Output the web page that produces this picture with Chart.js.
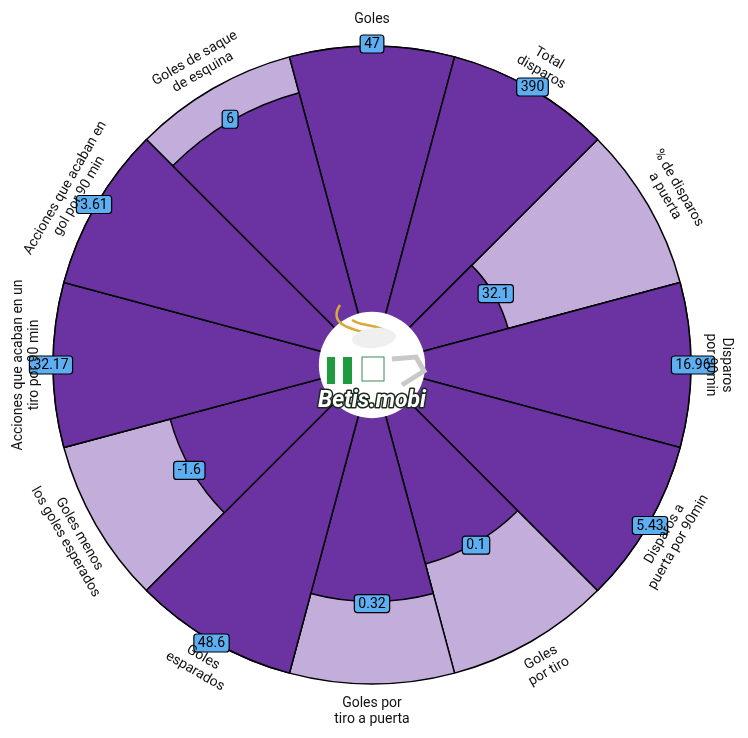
<!DOCTYPE html>
<html>
<head>
<meta charset="utf-8">
<script src="https://cdn.jsdelivr.net/npm/chart.js@4"></script>
<style>
  html, body { margin: 0; padding: 0; background: #fff; }
  #wrap { width: 748px; height: 738px; position: relative; }
</style>
</head>
<body>
<div id="wrap"><canvas id="canvas"></canvas></div>
<script>
const canvas = document.getElementById("canvas");

// clockwise from the top
const params = [
  ["Goles"],
  ["Total", "disparos"],
  ["% de disparos", "a puerta"],
  ["Disparos", "por 90min"],
  ["Disparos a", "puerta por 90min"],
  ["Goles", "por tiro"],
  ["Goles por", "tiro a puerta"],
  ["Goles", "esparados"],
  ["Goles menos", "los goles esperados"],
  ["Acciones que acaban en un", "tiro por 90 min"],
  ["Acciones que acaban en", "gol por 90 min"],
  ["Goles de saque", "de esquina"]
];
const statValues = ["47", "390", "32.1", "16.96", "5.43", "0.1", "0.32", "48.6", "-1.6", "32.17", "3.61", "6"];
const percentiles = [100, 100, 33, 100, 100, 57.5, 69, 100, 58.6, 100, 100, 86];
const fullRange = [100, 100, 100, 100, 100, 100, 100, 100, 100, 100, 100, 100];

const darkColor = "#6a33a1";
const lightColor = "#c3addb";
const boxColor = "#5eaef2";

function drawLogo(ctx, cx, cy, r) {
  ctx.save();
  ctx.beginPath();
  ctx.arc(cx, cy, r, 0, Math.PI * 2);
  ctx.fillStyle = "#fff";
  ctx.fill();
  // gold flame
  ctx.strokeStyle = "#d9a93a";
  ctx.lineWidth = 2.5;
  ctx.beginPath();
  ctx.moveTo(cx - 32, cy - 60);
  ctx.bezierCurveTo(cx - 45, cy - 40, cx - 20, cy - 35, cx + 10, cy - 28);
  ctx.moveTo(cx - 20, cy - 45);
  ctx.bezierCurveTo(cx - 10, cy - 38, cx + 5, cy - 42, cx + 20, cy - 30);
  ctx.stroke();
  ctx.fillStyle = "#efefef";
  ctx.beginPath();
  ctx.ellipse(cx + 2, cy - 27, 22, 10, -0.1, 0, Math.PI * 2);
  ctx.fill();
  // shield stripes
  ctx.fillStyle = "#1f9a3e";
  [[327, 8], [343, 9]].forEach(([x, w]) => ctx.fillRect(x, cy - 8, w, 27));
  // emblem
  ctx.strokeStyle = "#3c8a55";
  ctx.lineWidth = 1;
  ctx.strokeRect(cx - 10, cy - 8, 22, 24);
  // G shape
  ctx.strokeStyle = "#c9c9c9";
  ctx.lineWidth = 5;
  ctx.beginPath();
  ctx.moveTo(cx + 20, cy - 6);
  ctx.lineTo(cx + 44, cy - 8);
  ctx.lineTo(cx + 52, cy + 6);
  ctx.lineTo(cx + 30, cy + 20);
  ctx.stroke();
  ctx.font = "italic bold 23px Roboto";
  ctx.textAlign = "center";
  ctx.textBaseline = "middle";
  ctx.lineWidth = 3;
  ctx.lineJoin = "round";
  ctx.strokeStyle = "#1b2a1b";
  ctx.strokeText("Betis.mobi", cx, cy + 36);
  ctx.fillStyle = "#fff";
  ctx.fillText("Betis.mobi", cx, cy + 36);
  ctx.restore();
}

const pizzaText = {
  id: "pizzaText",
  afterDatasetsDraw(chart) {
    const ctx = chart.ctx;
    const scale = chart.scales.r;
    const cx = scale.xCenter, cy = scale.yCenter;
    const bars = chart.getDatasetMeta(0).data;
    const backs = chart.getDatasetMeta(1).data;

    drawLogo(ctx, cx, cy, scale.getDistanceFromCenterForValue(0));

    // value boxes
    ctx.save();
    ctx.font = "14px Roboto";
    ctx.textAlign = "center";
    ctx.textBaseline = "middle";
    bars.forEach((arc, i) => {
      const a = (arc.startAngle + arc.endAngle) / 2;
      const r = arc.outerRadius + 2;
      const x = cx + Math.cos(a) * r;
      const y = cy + Math.sin(a) * r;
      const w = ctx.measureText(statValues[i]).width + 8;
      const h = 18;
      ctx.beginPath();
      ctx.roundRect(x - w / 2, y - h / 2, w, h, 3);
      ctx.fillStyle = boxColor;
      ctx.fill();
      ctx.lineWidth = 1.2;
      ctx.strokeStyle = "#000";
      ctx.stroke();
      ctx.fillStyle = "#000";
      ctx.fillText(statValues[i], x, y + 0.5);
    });
    ctx.restore();

    // parameter names
    ctx.save();
    ctx.font = "14px Roboto";
    ctx.textAlign = "center";
    ctx.textBaseline = "middle";
    ctx.fillStyle = "#111";
    backs.forEach((arc, i) => {
      const a = (arc.startAngle + arc.endAngle) / 2;
      const r = arc.outerRadius + 27;
      const x = cx + Math.cos(a) * r;
      const y = cy + Math.sin(a) * r;
      let deg = ((a + Math.PI / 2) * 180 / Math.PI + 720) % 360;
      if (deg > 90.5 && deg < 269.5) deg -= 180;
      const lines = params[i];
      const lh = 16;
      ctx.save();
      ctx.translate(x, y);
      ctx.rotate(deg * Math.PI / 180);
      lines.forEach((t, k) => {
        ctx.fillText(t, 0, (k - (lines.length - 1) / 2) * lh);
      });
      ctx.restore();
    });
    ctx.restore();
  }
};

function init() {
  new Chart(canvas, {
    type: "polarArea",
    data: {
      labels: params.map(p => p.join(" ")),
      datasets: [{
        data: percentiles,
        backgroundColor: darkColor,
        borderColor: "#000",
        borderWidth: 1.5
      }, {
        data: fullRange,
        backgroundColor: lightColor,
        borderColor: "#000",
        borderWidth: 1.5
      }]
    },
    plugins: [pizzaText],
    options: {
      responsive: true,
      maintainAspectRatio: false,
      animation: false,
      layout: { padding: { top: 46, bottom: 54, left: 50, right: 54 } },
      plugins: {
        legend: { display: false },
        tooltip: { enabled: false }
      },
      scales: {
        r: {
          min: -20,
          max: 100,
          startAngle: -15,
          ticks: { display: false },
          grid: { display: false },
          angleLines: { display: false },
          pointLabels: { display: false }
        }
      }
    }
  });
}

document.addEventListener("DOMContentLoaded", init);
</script>
</body>
</html>
